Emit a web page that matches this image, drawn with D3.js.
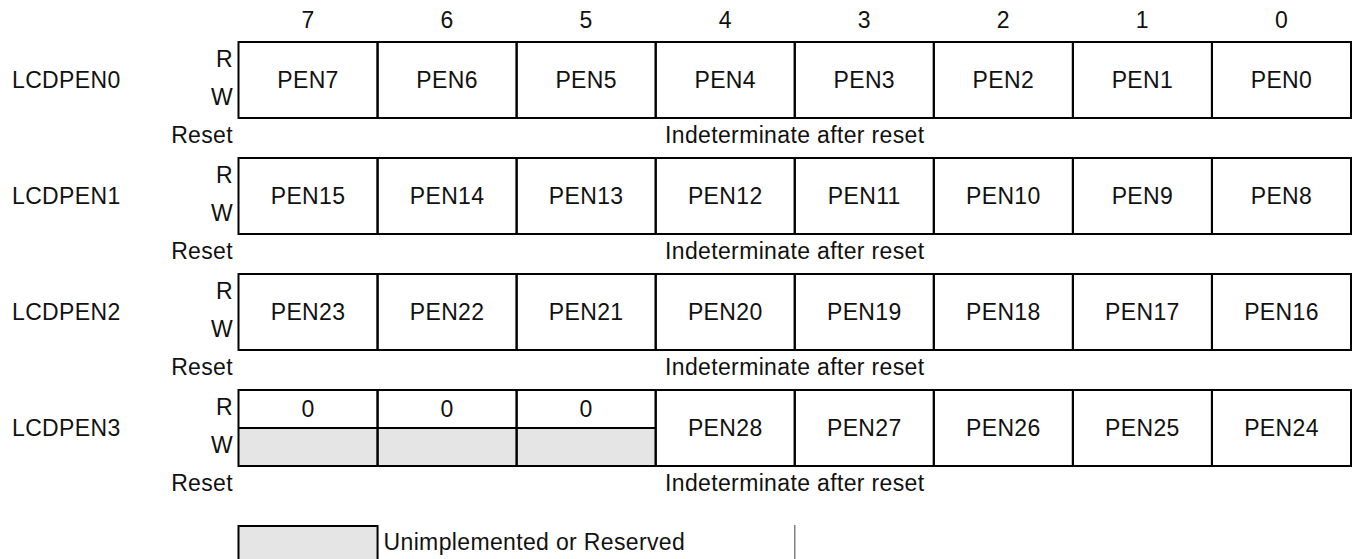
<!DOCTYPE html>
<html>
<head>
<meta charset="utf-8">
<script src="https://cdn.jsdelivr.net/npm/d3@7"></script>
<style>
  html, body { margin: 0; padding: 0; background: #fff; }
  svg { display: block; }
  text { font-family: "Liberation Sans", Arial, Helvetica, sans-serif; fill: #111; letter-spacing: 0.35px; }
</style>
</head>
<body>
<svg id="chart" width="1353" height="559"></svg>
<script>
// ---- data ----
const bits = [7, 6, 5, 4, 3, 2, 1, 0];
const registers = ["LCDPEN0", "LCDPEN1", "LCDPEN2", "LCDPEN3"];
const fieldsPEN0 = ["PEN7", "PEN6", "PEN5", "PEN4", "PEN3", "PEN2", "PEN1", "PEN0"];
const fieldsPEN1 = ["PEN15", "PEN14", "PEN13", "PEN12", "PEN11", "PEN10", "PEN9", "PEN8"];
const fieldsPEN2 = ["PEN23", "PEN22", "PEN21", "PEN20", "PEN19", "PEN18", "PEN17", "PEN16"];
const fieldsPEN3 = ["0", "0", "0", "PEN28", "PEN27", "PEN26", "PEN25", "PEN24"];
// 1 = read-only zero / unimplemented write bit
const reservedPEN3 = [1, 1, 1, 0, 0, 0, 0, 0];
const resetText = "Indeterminate after reset";
const legendText = "Unimplemented or Reserved";

const fields = [fieldsPEN0, fieldsPEN1, fieldsPEN2, fieldsPEN3];
const reserved = [[0,0,0,0,0,0,0,0],[0,0,0,0,0,0,0,0],[0,0,0,0,0,0,0,0], reservedPEN3];

// ---- layout ----
const svg = d3.select("#chart");
const FS = 23;
const x = d3.scaleBand().domain(bits).range([238.5, 1351]).padding(0);
const y = d3.scaleBand().domain(registers).range([42, 42 + 116 * 4]).paddingInner(0).paddingOuter(0);
const boxH = 76;
const gray = "#e5e5e5";

// bit numbers header
svg.append("g").selectAll("text").data(bits).join("text")
  .attr("x", d => x(d) + x.bandwidth() / 2)
  .attr("y", 28)
  .attr("text-anchor", "middle")
  .style("font-size", FS + "px")
  .text(d => d);

registers.forEach((reg, ri) => {
  const top = y(reg);
  const g = svg.append("g");

  // register name
  g.append("text").attr("x", 12).attr("y", top + 46)
    .style("font-size", FS + "px").text(reg);
  // R / W labels
  g.append("text").attr("x", 233).attr("y", top + 25).attr("text-anchor", "end")
    .style("font-size", FS + "px").text("R");
  g.append("text").attr("x", 233).attr("y", top + 63).attr("text-anchor", "end")
    .style("font-size", FS + "px").text("W");
  // Reset label
  g.append("text").attr("x", 233).attr("y", top + 101).attr("text-anchor", "end")
    .style("font-size", FS + "px").text("Reset");
  g.append("text").attr("x", (x.range()[0] + x.range()[1]) / 2).attr("y", top + 101)
    .attr("text-anchor", "middle").style("font-size", FS + "px").text(resetText);

  const cells = bits.map((b, i) => ({ bit: b, label: fields[ri][i], res: reserved[ri][i] }));

  // reserved write halves
  g.selectAll("rect.res").data(cells.filter(c => c.res)).join("rect")
    .attr("class", "res")
    .attr("x", d => x(d.bit)).attr("y", top + boxH / 2)
    .attr("width", x.bandwidth()).attr("height", boxH / 2)
    .attr("fill", gray);

  // cell borders
  g.selectAll("rect.cell").data(cells).join("rect")
    .attr("class", "cell")
    .attr("x", d => x(d.bit)).attr("y", top)
    .attr("width", x.bandwidth()).attr("height", boxH)
    .attr("fill", "none").attr("stroke", "#000").attr("stroke-width", 2);

  // horizontal divider for reserved cells
  g.selectAll("line.div").data(cells.filter(c => c.res)).join("line")
    .attr("class", "div")
    .attr("x1", d => x(d.bit)).attr("x2", d => x(d.bit) + x.bandwidth())
    .attr("y1", top + boxH / 2).attr("y2", top + boxH / 2)
    .attr("stroke", "#000").attr("stroke-width", 2);

  // labels
  g.selectAll("text.lbl").data(cells).join("text")
    .attr("class", "lbl")
    .attr("x", d => x(d.bit) + x.bandwidth() / 2)
    .attr("y", d => d.res ? top + 27 : top + 46)
    .attr("text-anchor", "middle")
    .style("font-size", FS + "px")
    .text(d => d.label);
});

// legend
svg.append("rect").attr("x", x(7)).attr("y", 526).attr("width", x.bandwidth()).attr("height", 60)
  .attr("fill", gray).attr("stroke", "#000").attr("stroke-width", 2);
svg.append("text").attr("x", x(7) + x.bandwidth() + 6).attr("y", 550)
  .style("font-size", FS + "px").text(legendText);
svg.append("line").attr("x1", x(3)).attr("x2", x(3)).attr("y1", 525).attr("y2", 559)
  .attr("stroke", "#808080").attr("stroke-width", 1.5);
</script>
</body>
</html>
